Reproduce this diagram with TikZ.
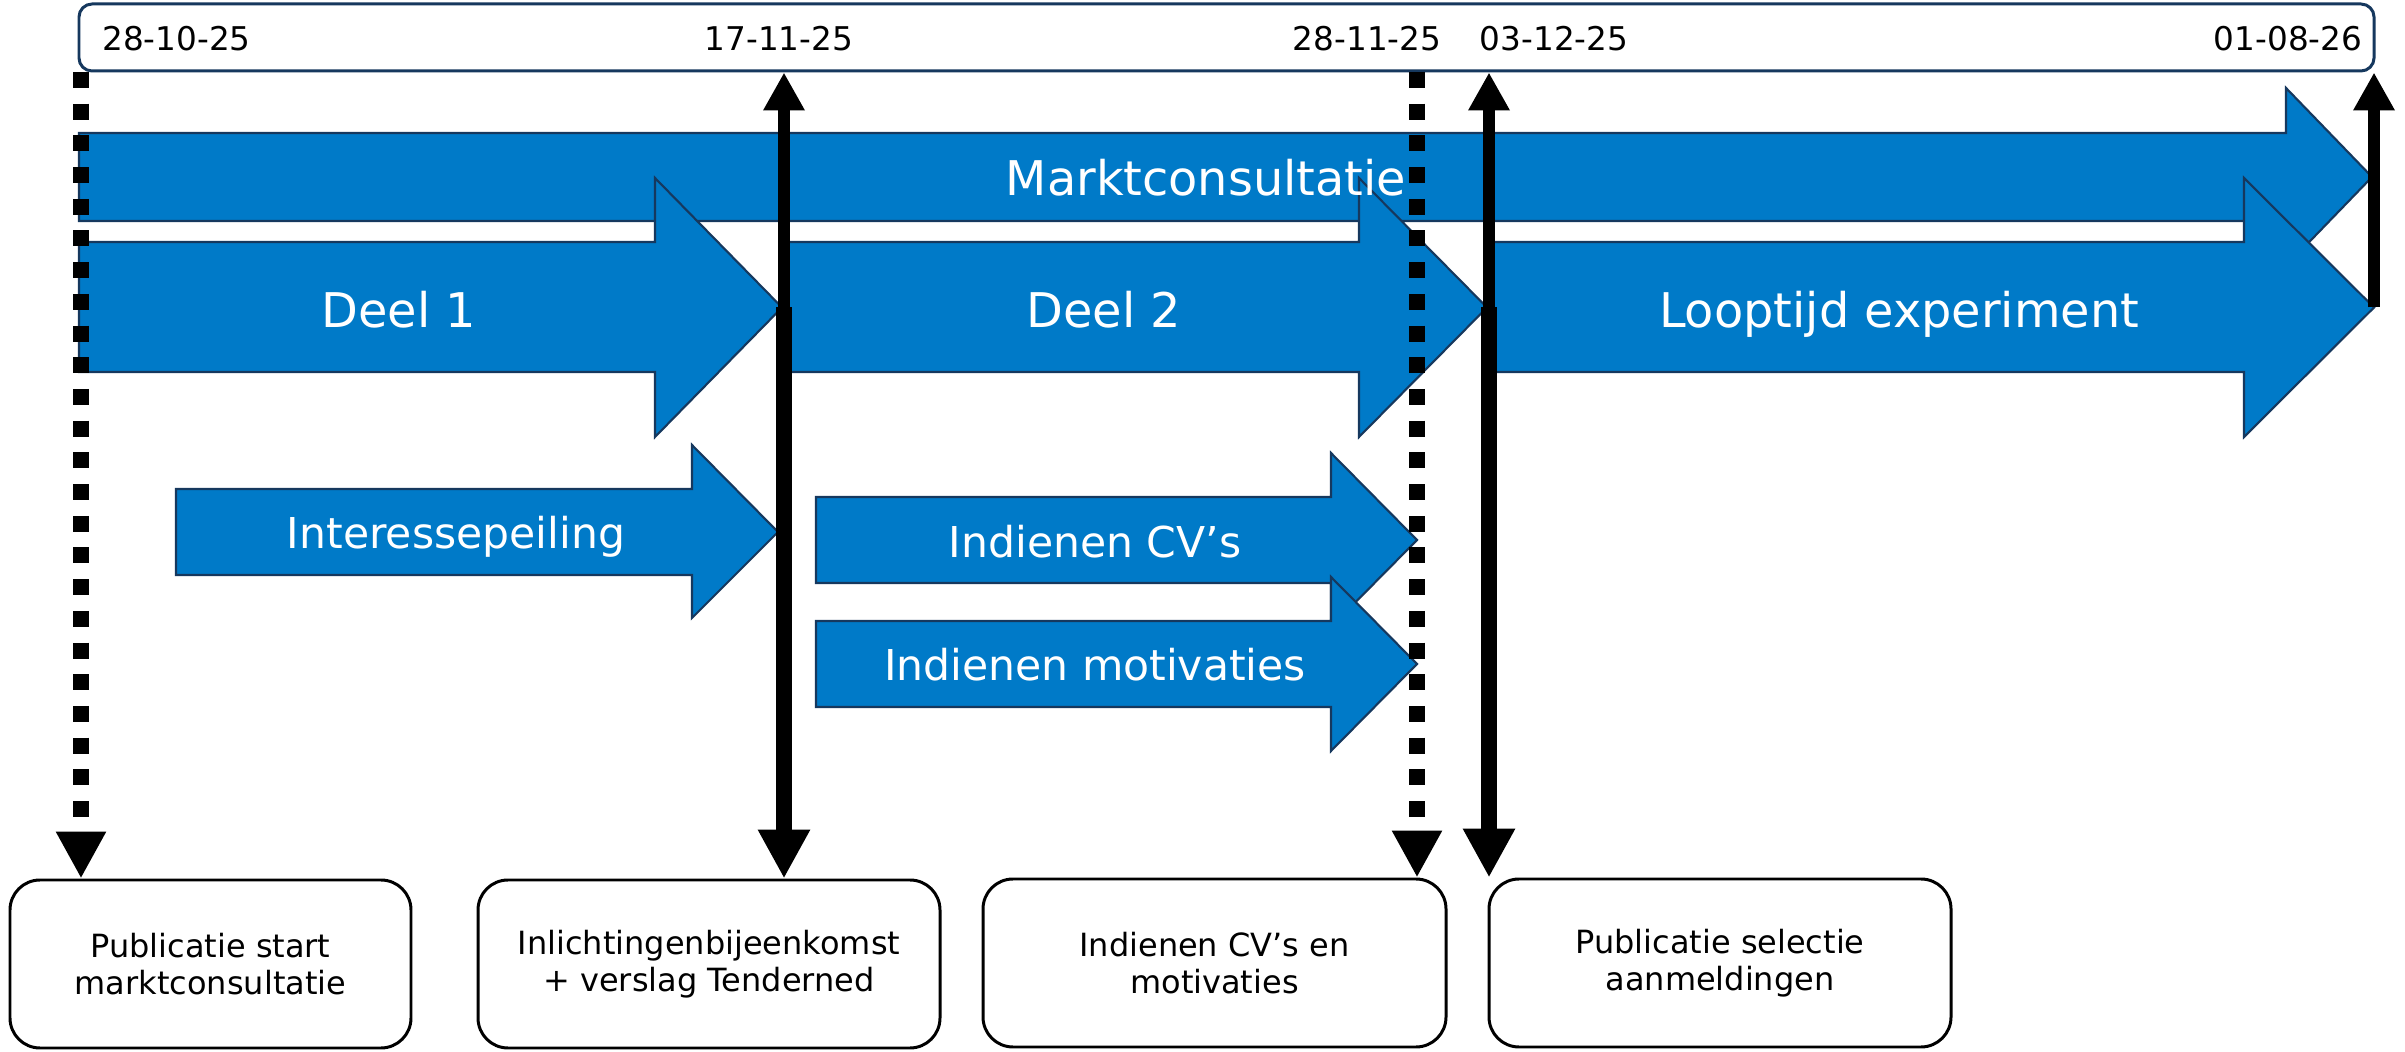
\documentclass[tikz,border=0pt]{standalone}
\usepackage{fontspec}
\setmainfont{DejaVu Sans}
\usetikzlibrary{arrows.meta,positioning,calc}
\definecolor{tlBlauw}{RGB}{0,122,200}
\definecolor{tlNavy} {RGB}{22,56,94}

\tikzset{
  blokpijl/.style={fill=tlBlauw,draw=tlNavy,line width=0.6pt,line join=miter},
  grotetekst/.style={white,anchor=base,font=\fontsize{13.6}{16}\selectfont},
  pijltekst/.style={white,anchor=base,font=\fontsize{12.1}{14}\selectfont},
  datum/.style={anchor=base,font=\fontsize{9.3}{11}\selectfont},
  mijlpaal/.style={draw=black,fill=white,line width=0.85pt,rounded corners=0.3cm,
                   minimum height=1.68cm,inner sep=0pt,align=center,
                   font=\fontsize{9.1}{10.5}\selectfont},
  omhoog/.style={line width=0.127cm,-{Triangle[length=0.38cm,width=0.39cm]}},
  omlaag/.style={line width=0.167cm,-{Triangle[length=0.49cm,width=0.49cm]}},
  stippel/.style={line width=0.16cm,dash pattern=on 0.16cm off 0.157cm,
                  -{Triangle[length=0.47cm,width=0.47cm]}}
}

\begin{document}
\begin{tikzpicture}[x=1cm,y=-1cm]
    \useasboundingbox (0,0) rectangle (24.05,10.52);

    % ── tijdbalk met data ───────────────────────────────
    \node[draw=tlNavy,fill=white,line width=0.85pt,rounded corners=0.13cm,
          minimum width=22.95cm,minimum height=0.67cm,inner sep=0pt]
          (tijdbalk) at (12.265,0.375) {};
    \node[datum] (dat1) at (1.765,0.51) {28-10-25};
    \node[datum] (dat2) at (7.79,0.51)  {17-11-25};
    \node[datum] (dat3) at (13.67,0.51) {28-11-25};
    \node[datum] (dat4) at (15.54,0.51) {03-12-25};
    \node[datum] (dat5) at (22.88,0.51) {01-08-26};

    % ── fasen ───────────────────────────────────────────
    \draw[blokpijl] (0.79,1.33) -- (22.86,1.33) -- (22.86,0.88) -- (23.72,1.77)
        -- (22.86,2.66) -- (22.86,2.21) -- (0.79,2.21) -- cycle;
    \draw[blokpijl] (0.79,2.42) -- (6.55,2.42) -- (6.55,1.78) -- (7.82,3.075)
        -- (6.55,4.37) -- (6.55,3.72) -- (0.79,3.72) -- cycle;
    \draw[blokpijl] (7.84,2.42) -- (13.59,2.42) -- (13.59,1.78) -- (14.87,3.075)
        -- (13.59,4.37) -- (13.59,3.72) -- (7.84,3.72) -- cycle;
    \draw[blokpijl] (14.89,2.42) -- (22.44,2.42) -- (22.44,1.78) -- (23.74,3.075)
        -- (22.44,4.37) -- (22.44,3.72) -- (14.89,3.72) -- cycle;
    % stappen
    \draw[blokpijl] (1.76,4.89) -- (6.92,4.89) -- (6.92,4.45) -- (7.78,5.32)
        -- (6.92,6.18) -- (6.92,5.75) -- (1.76,5.75) -- cycle;
    \draw[blokpijl] (8.16,4.97) -- (13.31,4.97) -- (13.31,4.53) -- (14.17,5.40)
        -- (13.31,6.27) -- (13.31,5.83) -- (8.16,5.83) -- cycle;
    \draw[blokpijl] (8.16,6.21) -- (13.31,6.21) -- (13.31,5.77) -- (14.17,6.64)
        -- (13.31,7.51) -- (13.31,7.07) -- (8.16,7.07) -- cycle;

    \node[grotetekst] (markt)   at (12.06,1.96) {Marktconsultatie};
    \node[grotetekst] (deel1)   at (3.99,3.28)  {Deel 1};
    \node[grotetekst] (deel2)   at (11.04,3.28) {Deel 2};
    \node[grotetekst] (looptijd) at (18.99,3.28) {Looptijd experiment};
    \node[pijltekst]  (peiling) at (4.56,5.49)  {Interessepeiling};
    \node[pijltekst]  (cvs)     at (10.95,5.58) {Indienen CV’s};
    \node[pijltekst]  (motiv)   at (10.95,6.81) {Indienen motivaties};

    % ── mijlpalen ───────────────────────────────────────
    \node[mijlpaal,minimum width=4.01cm] (box1) at (2.105,9.64)
      {Publicatie start\\marktconsultatie};
    \node[mijlpaal,minimum width=4.62cm] (box2) at (7.09,9.64)
      {Inlichtingenbijeenkomst\\+ verslag Tenderned};
    \node[mijlpaal,minimum width=4.63cm] (box3) at (12.145,9.63)
      {Indienen CV’s en\\motivaties};
    \node[mijlpaal,minimum width=4.62cm] (box4) at (17.20,9.63)
      {Publicatie selectie\\aanmeldingen};

    % ── lijnen per datum ────────────────────────────────
    \coordinate (t1) at (0.81,0.72);
    \coordinate (t3) at (14.17,0.72);
    \coordinate (k2) at (7.84,3.075);
    \coordinate (k4) at (14.89,3.075);
    \coordinate (k5) at (23.74,3.075);

    \draw[stippel] (t1) -- (t1 |- box1.north);
    \draw[stippel] (t3) -- (t3 |- box3.north);
    \draw[omlaag] (k2) -- (k2 |- box2.north);
    \draw[omhoog] (k2) -- (k2 |- tijdbalk.south);
    \draw[omlaag] (k4) -- (k4 |- box4.north);
    \draw[omhoog] (k4) -- (k4 |- tijdbalk.south);
    \draw[omhoog] (k5) -- (k5 |- tijdbalk.south);

\end{tikzpicture}
\end{document}
